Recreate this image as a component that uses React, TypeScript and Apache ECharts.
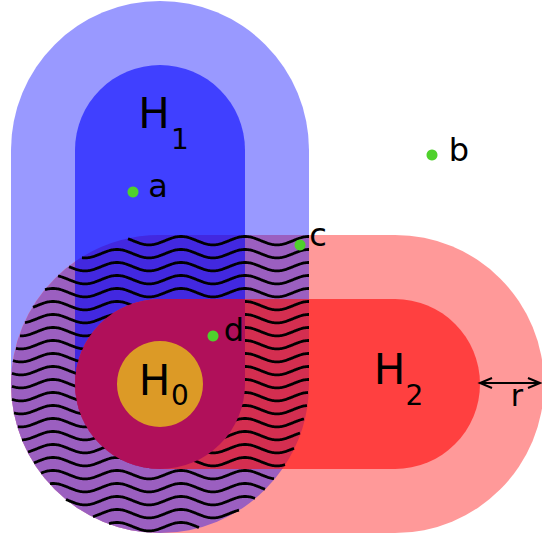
import React, { useEffect, useRef } from "react";
import * as echarts from "echarts";

// Geometry (diagram units = pixels of the 542x537 canvas)
const hubCentre = [160, 384]; // H0
const h1End = [160, 150]; // end of H1 segment
const h2End = [395, 384]; // end of H2 segment
const innerRadius = 85;
const haloRadius = 64; // r

const pointNames = ["a", "b", "c", "d"];
const pointX = [133, 432, 300, 213];
const pointY = [192, 155, 245, 336];

const hNames = ["H", "H", "H"];
const hSubs = ["0", "1", "2"];
const hX = [154.5, 154, 389.5];
const hY = [380, 113, 369];
const subX = [180, 180, 414.5];
const subY = [395, 139, 395];

const waveSpacing = 13;
const wavePeriod = 64;
const waveAmp = 4.2;

const colors = {
  lightBlue: "#9999ff",
  blue: "#4040ff",
  lightRed: "#ff9999",
  red: "#ff4040",
  purple: "#9b5fc0",
  blueInPink: "#4228e0",
  crimson: "#d42e50",
  magenta: "#b0105a",
  orange: "#dc9a26",
  green: "#4fd12c",
};

const FONT = "DejaVu Sans";

export default function App() {
  const ref = useRef<HTMLDivElement>(null);
  useEffect(() => {
    document.body.style.margin = "0";
    const chart = echarts.init(ref.current!, null, { renderer: "svg" });

    const renderItem = (params: any, api: any) => {
      const P = (x: number, y: number) => {
        const p = api.coord([x, y]);
        return `${p[0].toFixed(2)} ${p[1].toFixed(2)}`;
      };
      const S = (r: number) => api.size([r, 0])[0];
      const [cx, cy] = hubCentre;
      const ri = innerRadius;
      const ro = innerRadius + haloRadius;
      const top1 = h1End[1];
      const right2 = h2End[0];

      const vStadium = (r: number) =>
        `M ${P(cx - r, top1)} A ${S(r)} ${S(r)} 0 0 1 ${P(cx + r, top1)} L ${P(cx + r, cy)} A ${S(r)} ${S(r)} 0 0 1 ${P(cx - r, cy)} Z`;
      const hStadium = (r: number) =>
        `M ${P(cx, cy - r)} L ${P(right2, cy - r)} A ${S(r)} ${S(r)} 0 0 1 ${P(right2, cy + r)} L ${P(cx, cy + r)} A ${S(r)} ${S(r)} 0 0 1 ${P(cx, cy - r)} Z`;
      const corner = (r: number) =>
        `M ${P(cx, cy - r)} L ${P(cx + r, cy - r)} L ${P(cx + r, cy)} A ${S(r)} ${S(r)} 0 1 1 ${P(cx, cy - r)} Z`;
      const yAtLeft = cy - Math.sqrt(ro * ro - ri * ri);
      const blueInPink = `M ${P(cx - ri, cy)} L ${P(cx - ri, yAtLeft)} A ${S(ro)} ${S(ro)} 0 0 1 ${P(cx, cy - ro)} L ${P(cx + ri, cy - ro)} L ${P(cx + ri, cy)} A ${S(ri)} ${S(ri)} 0 0 1 ${P(cx - ri, cy)} Z`;
      const xAtBottom = cx + Math.sqrt(ro * ro - ri * ri);
      const redInBlue = `M ${P(cx, cy - ri)} L ${P(cx + ro, cy - ri)} L ${P(cx + ro, cy)} A ${S(ro)} ${S(ro)} 0 0 1 ${P(xAtBottom, cy + ri)} L ${P(cx, cy + ri)} A ${S(ri)} ${S(ri)} 0 0 1 ${P(cx, cy - ri)} Z`;

      const path = (d: string, fill: string) => ({
        type: "path",
        shape: { pathData: d },
        style: { fill, stroke: null },
      });

      // waves clipped to the halo intersection
      const inside = (x: number, y: number) => {
        const dx = x - cx, dy = y - cy;
        if (dx * dx + dy * dy <= ro * ro) return true;
        return x >= cx && x <= cx + ro && y >= cy - ro && y <= cy;
      };
      const waves: any[] = [];
      for (let base = cy - ro + waveAmp + 1.5; base < cy + ro + 4; base += waveSpacing) {
        let run: number[][] = [];
        const flush = () => {
          if (run.length > 1)
            waves.push({
              type: "polyline",
              shape: { points: run },
              style: { stroke: "#000", lineWidth: 2.8, fill: null },
            });
          run = [];
        };
        for (let x = cx - ro; x <= cx + ro; x += 1) {
          const y = base - waveAmp * Math.cos((2 * Math.PI * (x - 245)) / wavePeriod);
          if (inside(x, y)) run.push(api.coord([x, y]));
          else flush();
        }
        flush();
      }

      const text = (t: string, x: number, y: number, size: number) => {
        const p = api.coord([x, y]);
        return {
          type: "text",
          style: {
            text: t,
            x: p[0],
            y: p[1],
            fill: "#000",
            fontSize: size,
            fontFamily: FONT,
            align: "center",
            verticalAlign: "middle",
          },
        };
      };

      const children: any[] = [
        path(vStadium(ro), colors.lightBlue),
        path(hStadium(ro), colors.lightRed),
        path(corner(ro), colors.purple),
        path(vStadium(ri), colors.blue),
        path(hStadium(ri), colors.red),
        path(blueInPink, colors.blueInPink),
        path(redInBlue, colors.crimson),
        ...waves,
        path(corner(ri), colors.magenta),
      ];
      const c0 = api.coord(hubCentre);
      children.push({
        type: "circle",
        shape: { cx: c0[0], cy: c0[1], r: S(43) },
        style: { fill: colors.orange },
      });
      for (let i = 0; i < hNames.length; i++) {
        children.push(text(hNames[i], hX[i], hY[i], 42));
        children.push(text(hSubs[i], subX[i], subY[i], 28));
      }
      const labelDx = [25, 27, 18, 21];
      const labelDy = [-6, -5, -10, -6];
      for (let i = 0; i < pointNames.length; i++) {
        const p = api.coord([pointX[i], pointY[i]]);
        children.push({
          type: "circle",
          shape: { cx: p[0], cy: p[1], r: S(5.5) },
          style: { fill: colors.green },
        });
        children.push(text(pointNames[i], pointX[i] + labelDx[i], pointY[i] + labelDy[i], 32));
      }
      // r arrow
      const ax0 = right2 + ri;
      const ax1 = 540;
      const ay = cy - 1;
      const L = (pts: number[][]) => ({
        type: "polyline",
        shape: { points: pts.map((q) => api.coord(q)) },
        style: { stroke: "#000", lineWidth: 2, fill: null },
      });
      children.push(L([[ax0, ay], [ax1, ay]]));
      children.push(L([[ax0 + 12, ay - 5], [ax0, ay], [ax0 + 12, ay + 5]]));
      children.push(L([[ax1 - 12, ay - 5], [ax1, ay], [ax1 - 12, ay + 5]]));
      children.push(text("r", 517, 395, 30));

      return { type: "group", children };
    };

    chart.setOption({
      animation: false,
      grid: { left: 0, right: 0, top: 0, bottom: 0 },
      xAxis: { type: "value", min: 0, max: 542, show: false },
      yAxis: { type: "value", min: 0, max: 537, inverse: true, show: false },
      series: [
        {
          type: "custom",
          clip: false,
          silent: true,
          data: [[0, 0]],
          renderItem,
        },
      ],
    });
    return () => chart.dispose();
  }, []);
  return (
    <div
      ref={ref}
      style={{ position: "absolute", left: 0, top: 0, width: 542, height: 537 }}
    />
  );
}
